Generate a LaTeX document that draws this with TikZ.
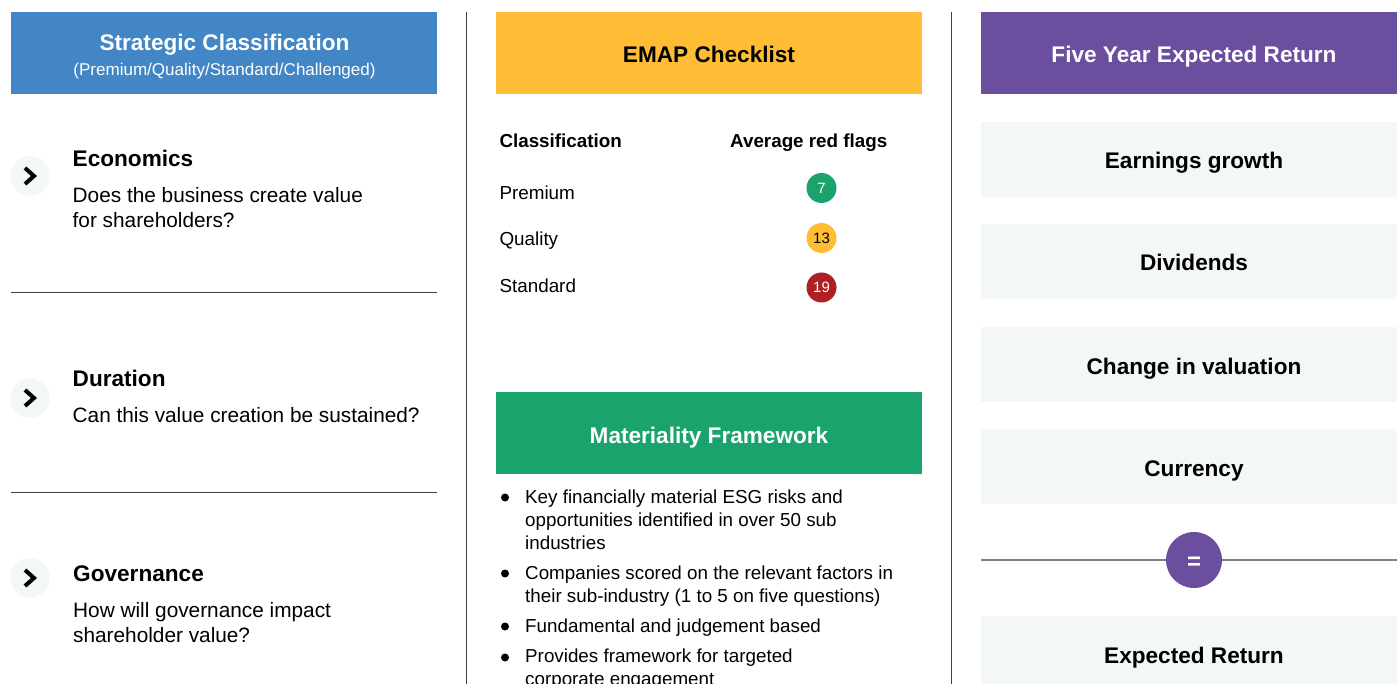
\documentclass[tikz,border=0pt]{standalone}
\usepackage{fontspec}
\setmainfont{Liberation Sans}
\definecolor{cblue}{HTML}{4286C6}
\definecolor{cyellow}{HTML}{FFBC35}
\definecolor{cpurple}{HTML}{6B4F9E}
\definecolor{cgreen}{HTML}{1BA36E}
\definecolor{cred}{HTML}{B01F24}
\definecolor{cpale}{HTML}{F4F7F8}
\tikzset{
 header/.style={rectangle,inner sep=0pt,minimum width=426pt,minimum height=82pt,text=#1,font=\fontsize{22.6}{26}\selectfont\bfseries,text height=20pt,text depth=0pt},
 greybox/.style={rectangle,fill=cpale,inner sep=0pt,minimum width=426pt,minimum height=75pt,font=\fontsize{22.6}{26}\selectfont\bfseries,text height=19pt,text depth=0pt},
 title/.style={anchor=base west,inner sep=0pt,font=\fontsize{22.6}{26}\selectfont\bfseries},
 body/.style={anchor=base west,inner sep=0pt,font=\fontsize{20.8}{24.5}\selectfont,align=left},
 thead/.style={anchor=base west,inner sep=0pt,font=\fontsize{18.8}{22}\selectfont\bfseries},
 cell/.style={anchor=base west,inner sep=0pt,font=\fontsize{18.85}{22}\selectfont},
 flag/.style={circle,inner sep=0pt,minimum size=30pt,fill=#1,font=\fontsize{15}{16}\selectfont},
 chevcirc/.style={circle,inner sep=0pt,minimum size=39.5pt,fill=cpale},
 chev/.style={line width=4pt,black,line join=miter},
 rule/.style={line width=1pt,black!75},
 bullet/.style={circle,inner sep=0pt,minimum size=8pt,fill=black},
 btext/.style={anchor=base west,inner sep=0pt,font=\fontsize{18.8}{22.9}\selectfont,align=left},
}
\begin{document}
\begin{tikzpicture}[x=1pt,y=-1pt]
\useasboundingbox (0,0) rectangle (1397,684);
\clip (0,0) rectangle (1397,684);
\fill[white] (0,0) rectangle (1397,684);
% rules
\coordinate (v1a) at (466.5,12); \coordinate (v1b) at (466.5,684);
\coordinate (v2a) at (951.5,12); \coordinate (v2b) at (951.5,684);
\draw[rule] (v1a) -- (v1b);
\draw[rule] (v2a) -- (v2b);
\coordinate (d1a) at (11,292.5); \coordinate (d1b) at (437,292.5);
\coordinate (d2a) at (11,492.5); \coordinate (d2b) at (437,492.5);
\draw[rule] (d1a) -- (d1b);
\draw[rule] (d2a) -- (d2b);
% headers
\node[header=white,fill=cblue] (h1) at (224,53) {};
\node[anchor=base,inner sep=0pt,text=white,font=\fontsize{22.6}{26}\selectfont\bfseries] (h1t) at (224.5,51) {Strategic Classification};
\node[anchor=base,inner sep=0pt,text=white,font=\fontsize{17.05}{20}\selectfont] (h1s) at (224.5,76) {(Premium/Quality/Standard/Challenged)};
\node[header=black,fill=cyellow] (h2) at (709,53) {EMAP Checklist};
\node[header=white,fill=cgreen] (h3) at (709,433) {Materiality Framework};
\node[header=white,fill=cpurple] (h4) at (1194,53) {Five Year Expected Return};
% left column
\node[chevcirc] (c1) at (30,176) {};
\node[chevcirc] (c2) at (30,398) {};
\node[chevcirc] (c3) at (30,578) {};
\draw[chev] (25,168) -- (34,176) -- (25,184);
\draw[chev] (25,390) -- (34,398) -- (25,406);
\draw[chev] (25,570) -- (34,578) -- (25,586);
\node[title] (t1) at (72.5,167) {Economics};
\node[body] (b1) at (72.5,227.5) {Does the business create value\\for shareholders?};
\node[title] (t2) at (72.5,386) {Duration};
\node[body] (b2) at (72.5,422) {Can this value creation be sustained?};
\node[title] (t3) at (73,581.5) {Governance};
\node[body] (b3) at (73,642) {How will governance impact\\shareholder value?};
% table
\node[thead] (th1) at (499.3,147.5) {Classification};
\node[thead] (th2) at (730,147.5) {Average red flags};
\node[cell] (r1) at (499.3,199.5) {Premium};
\node[cell] (r2) at (499.3,246) {Quality};
\node[cell] (r3) at (499.3,292.5) {Standard};
\node[flag=cgreen,text=white] (f1) at (821.5,188) {7};
\node[flag=cyellow,text=black] (f2) at (821.5,238) {13};
\node[flag=cred,text=white] (f3) at (821.5,287.5) {19};
% bullets
\node[bullet] (p1) at (505,497.5) {};
\node[btext] (q1) at (525,549) {Key financially material ESG risks and\\opportunities identified in over 50 sub\\industries};
\node[bullet] (p2) at (505,573.5) {};
\node[btext] (q2) at (525,602.5) {Companies scored on the relevant factors in\\their sub-industry (1 to 5 on five questions)};
\node[bullet] (p3) at (505,626.5) {};
\node[btext] (q3) at (525,632) {Fundamental and judgement based};
\node[bullet] (p4) at (505,657.5) {};
\node[btext] (q4) at (525,685.6) {Provides framework for targeted\\corporate engagement};
% right column
\node[greybox] (g1) at (1194,159.5) {Earnings growth};
\node[greybox] (g2) at (1194,261.5) {Dividends};
\node[greybox] (g3) at (1194,364.5) {Change in valuation};
\node[greybox] (g4) at (1194,466.5) {Currency};
\node[greybox] (g5) at (1194,653.5) {Expected Return};
\coordinate (la) at (981,560); \coordinate (lb) at (1397,560);
\draw[line width=1.2pt,black!50] (la) -- (lb);
\node[circle,inner sep=0pt,minimum size=56pt,fill=cpurple,text=white,font=\fontsize{24}{26}\selectfont\bfseries,text height=18pt,text depth=0pt] (eq) at (1194,560) {=};
\end{tikzpicture}
\end{document}
